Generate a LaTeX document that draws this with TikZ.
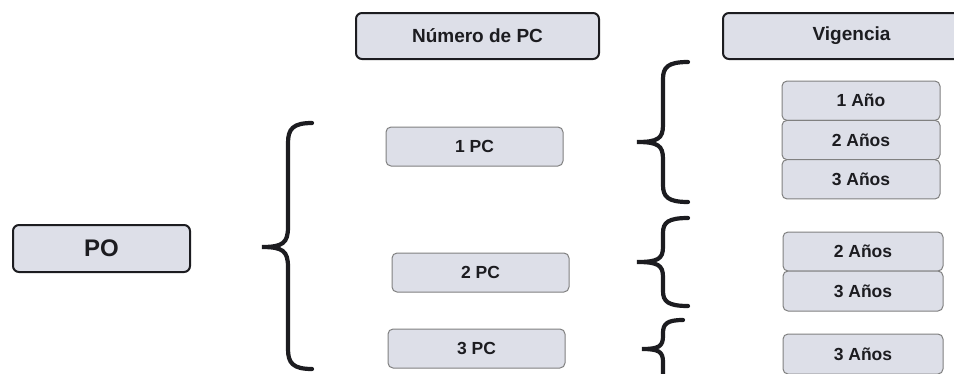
\documentclass[tikz,border=0pt]{standalone}
\usepackage{fontspec}
\setmainfont{Liberation Sans}
\usetikzlibrary{positioning}
\definecolor{boxfill}{RGB}{221,223,232}
\definecolor{ink}{RGB}{28,28,32}
\tikzset{%
  pics/curly brace/.style={code={%
      \tikzset{curly brace/.cd,#1}%
      \pgfkeysgetvalue{/tikz/curly brace/top}\bt
      \pgfkeysgetvalue{/tikz/curly brace/tip}\bm
      \pgfkeysgetvalue{/tikz/curly brace/bot}\bb
      \pgfkeysgetvalue{/tikz/curly brace/depth}\bd
      \pgfkeysgetvalue{/tikz/curly brace/hook}\bh
      \pgfkeysgetvalue{/tikz/curly brace/r}\br
      % upper arm, from the hook down to the tip
      \draw[curly brace/stroke] (\bh,\bt)
        .. controls ({0.2*\bh},\bt) and (0,{\bt+0.3*\br}) .. (0,{\bt+\br})
        -- (0,{\bm-\br})
        .. controls (0,{\bm-0.2*\br}) and ({-0.2*\bd},\bm) .. (-\bd,\bm)
        % lower arm, from the tip down to the hook
        .. controls ({-0.2*\bd},\bm) and (0,{\bm+0.2*\br}) .. (0,{\bm+\br})
        -- (0,{\bb-\br})
        .. controls (0,{\bb-0.3*\br}) and ({0.2*\bh},\bb) .. (\bh,\bb);
    }
  },
  curly brace/.cd,
  top/.initial=0,
  tip/.initial=50,
  bot/.initial=100,
  depth/.initial=26,
  hook/.initial=24,
  r/.initial=18,
  stroke/.style={draw=ink,line width=4.2pt,line cap=round},
}
\tikzset{%
  head/.style={draw=ink,line width=2pt,rounded corners=6pt,fill=boxfill,text=ink,
    font=\bfseries\fontsize{19}{21}\selectfont,inner sep=0pt},
  item/.style={draw=black!50,line width=1pt,rounded corners=5pt,fill=boxfill,text=ink,
    font=\bfseries\fontsize{17.5}{20}\selectfont,inner sep=0pt,outer sep=0pt,
    minimum width=177,minimum height=39},
}

\begin{document}
\begin{tikzpicture}[x=1pt,y=-1pt]
  \useasboundingbox (0,0) rectangle (954,373);
  \clip (0,0) rectangle (954,373);
  % headings
  \node[head,minimum width=243,minimum height=46] (numero) at (477.5,36) {Número de PC};
  \node[head,minimum width=257,minimum height=46] (vigencia) at (851.5,36) {Vigencia};
  \node[head,minimum width=177,minimum height=47,font=\bfseries\fontsize{24}{26}\selectfont] (po) at (101.5,248.5) {PO};
  % number of PCs
  \node[item] (pc1) at (474.5,146.5) {1 PC};
  \node[item] (pc2) at (480.5,272.5) {2 PC};
  \node[item] (pc3) at (476.5,348.5) {3 PC};
  % vigencias for 1 PC
  \node[item,minimum width=158,minimum height=39.3] (v11) at (861,100.7) {1 Año};
  \node[item,minimum width=158,minimum height=39.3] (v12) [below=0pt of v11] {2 Años};
  \node[item,minimum width=158,minimum height=39.3] (v13) [below=0pt of v12] {3 Años};
  % vigencias for 2 PC
  \node[item,minimum width=160] (v21) at (863,251.5) {2 Años};
  \node[item,minimum width=160,minimum height=40] (v22) [below=0pt of v21] {3 Años};
  % vigencia for 3 PC
  \node[item,minimum width=160,minimum height=40] (v31) at (863,354) {3 Años};
  % braces
  \path (288,0) pic{curly brace={top=123,tip=247,bot=369,r=20}};
  \path (663,0) pic{curly brace={top=62,tip=142,bot=202,hook=25,r=17}};
  \path (663,0) pic{curly brace={top=218,tip=262,bot=306,hook=25,r=15}};
  \path (663,0) pic{curly brace={top=320,tip=349,bot=400,depth=21,hook=20,r=13}};
\end{tikzpicture}
\end{document}
